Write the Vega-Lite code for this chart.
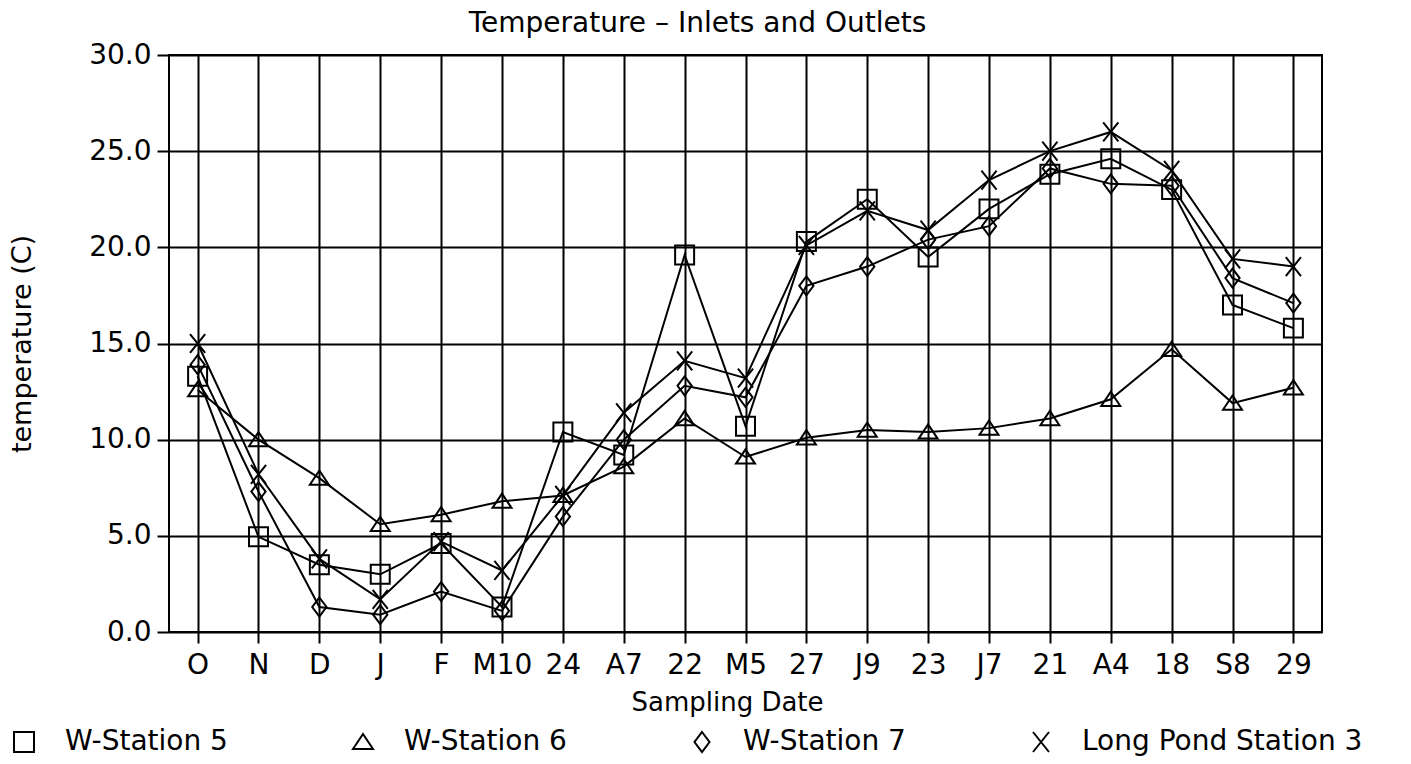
{
  "$schema": "https://vega.github.io/schema/vega-lite/v6.json",
  "width": 1153,
  "height": 577,
  "autosize": "none",
  "padding": {"left": 169, "top": 55, "right": 89, "bottom": 132},
  "background": "white",
  "config": {
    "font": "DejaVu Sans",
    "view": {"stroke": "black", "strokeWidth": 2}
  },
  "title": {
    "text": "Temperature – Inlets and Outlets",
    "fontSize": 28,
    "fontWeight": "normal",
    "color": "black",
    "anchor": "middle",
    "dx": -48,
    "offset": 3
  },
  "data": {
    "values": [
      {"date": "O", "station": "W-Station 5", "temp": 13.3},
      {"date": "N", "station": "W-Station 5", "temp": 4.95},
      {"date": "D", "station": "W-Station 5", "temp": 3.5},
      {"date": "J", "station": "W-Station 5", "temp": 3.0},
      {"date": "F", "station": "W-Station 5", "temp": 4.6},
      {"date": "M10", "station": "W-Station 5", "temp": 1.3},
      {"date": "24", "station": "W-Station 5", "temp": 10.4},
      {"date": "A7", "station": "W-Station 5", "temp": 9.2},
      {"date": "22", "station": "W-Station 5", "temp": 19.6},
      {"date": "M5", "station": "W-Station 5", "temp": 10.7},
      {"date": "27", "station": "W-Station 5", "temp": 20.3},
      {"date": "J9", "station": "W-Station 5", "temp": 22.5},
      {"date": "23", "station": "W-Station 5", "temp": 19.5},
      {"date": "J7", "station": "W-Station 5", "temp": 22.0},
      {"date": "21", "station": "W-Station 5", "temp": 23.8},
      {"date": "A4", "station": "W-Station 5", "temp": 24.6},
      {"date": "18", "station": "W-Station 5", "temp": 23.0},
      {"date": "S8", "station": "W-Station 5", "temp": 17.0},
      {"date": "29", "station": "W-Station 5", "temp": 15.8},
      {"date": "O", "station": "W-Station 6", "temp": 12.6},
      {"date": "N", "station": "W-Station 6", "temp": 10.0},
      {"date": "D", "station": "W-Station 6", "temp": 8.0},
      {"date": "J", "station": "W-Station 6", "temp": 5.6},
      {"date": "F", "station": "W-Station 6", "temp": 6.1},
      {"date": "M10", "station": "W-Station 6", "temp": 6.8},
      {"date": "24", "station": "W-Station 6", "temp": 7.1},
      {"date": "A7", "station": "W-Station 6", "temp": 8.6},
      {"date": "22", "station": "W-Station 6", "temp": 11.1},
      {"date": "M5", "station": "W-Station 6", "temp": 9.1},
      {"date": "27", "station": "W-Station 6", "temp": 10.1},
      {"date": "J9", "station": "W-Station 6", "temp": 10.5},
      {"date": "23", "station": "W-Station 6", "temp": 10.4},
      {"date": "J7", "station": "W-Station 6", "temp": 10.6},
      {"date": "21", "station": "W-Station 6", "temp": 11.1},
      {"date": "A4", "station": "W-Station 6", "temp": 12.1},
      {"date": "18", "station": "W-Station 6", "temp": 14.7},
      {"date": "S8", "station": "W-Station 6", "temp": 11.9},
      {"date": "29", "station": "W-Station 6", "temp": 12.7},
      {"date": "O", "station": "W-Station 7", "temp": 13.9},
      {"date": "N", "station": "W-Station 7", "temp": 7.3},
      {"date": "D", "station": "W-Station 7", "temp": 1.3},
      {"date": "J", "station": "W-Station 7", "temp": 0.9},
      {"date": "F", "station": "W-Station 7", "temp": 2.1},
      {"date": "M10", "station": "W-Station 7", "temp": 1.1},
      {"date": "24", "station": "W-Station 7", "temp": 6.0},
      {"date": "A7", "station": "W-Station 7", "temp": 10.0},
      {"date": "22", "station": "W-Station 7", "temp": 12.8},
      {"date": "M5", "station": "W-Station 7", "temp": 12.2},
      {"date": "27", "station": "W-Station 7", "temp": 18.0},
      {"date": "J9", "station": "W-Station 7", "temp": 19.0},
      {"date": "23", "station": "W-Station 7", "temp": 20.4},
      {"date": "J7", "station": "W-Station 7", "temp": 21.1},
      {"date": "21", "station": "W-Station 7", "temp": 24.1},
      {"date": "A4", "station": "W-Station 7", "temp": 23.3},
      {"date": "18", "station": "W-Station 7", "temp": 23.2},
      {"date": "S8", "station": "W-Station 7", "temp": 18.4},
      {"date": "29", "station": "W-Station 7", "temp": 17.1},
      {"date": "O", "station": "Long Pond Station 3", "temp": 15.0},
      {"date": "N", "station": "Long Pond Station 3", "temp": 8.2},
      {"date": "D", "station": "Long Pond Station 3", "temp": 3.8},
      {"date": "J", "station": "Long Pond Station 3", "temp": 1.7},
      {"date": "F", "station": "Long Pond Station 3", "temp": 4.7},
      {"date": "M10", "station": "Long Pond Station 3", "temp": 3.2},
      {"date": "24", "station": "Long Pond Station 3", "temp": 7.1},
      {"date": "A7", "station": "Long Pond Station 3", "temp": 11.4},
      {"date": "22", "station": "Long Pond Station 3", "temp": 14.1},
      {"date": "M5", "station": "Long Pond Station 3", "temp": 13.2},
      {"date": "27", "station": "Long Pond Station 3", "temp": 20.1},
      {"date": "J9", "station": "Long Pond Station 3", "temp": 21.9},
      {"date": "23", "station": "Long Pond Station 3", "temp": 20.9},
      {"date": "J7", "station": "Long Pond Station 3", "temp": 23.5},
      {"date": "21", "station": "Long Pond Station 3", "temp": 25.0},
      {"date": "A4", "station": "Long Pond Station 3", "temp": 26.0},
      {"date": "18", "station": "Long Pond Station 3", "temp": 24.0},
      {"date": "S8", "station": "Long Pond Station 3", "temp": 19.4},
      {"date": "29", "station": "Long Pond Station 3", "temp": 19.0}
    ]
  },
  "encoding": {
    "x": {
      "field": "date",
      "type": "ordinal",
      "sort": ["O", "N", "D", "J", "F", "M10", "24", "A7", "22", "M5", "27", "J9", "23", "J7", "21", "A4", "18", "S8", "29"],
      "scale": {"type": "point", "padding": 0.47},
      "axis": {
        "title": "Sampling Date",
        "titleFontSize": 26,
        "titleFontWeight": "normal",
        "titleColor": "black",
        "titleX": 558,
        "titlePadding": 10,
        "labelFontSize": 28,
        "labelColor": "black",
        "labelAngle": 0,
        "labelPadding": 8,
        "tickSize": 11,
        "tickColor": "black",
        "tickWidth": 2,
        "grid": true,
        "gridColor": "black",
        "gridWidth": 2,
        "gridOpacity": 1,
        "domain": false
      }
    },
    "y": {
      "field": "temp",
      "type": "quantitative",
      "scale": {"domain": [0, 30], "nice": false},
      "axis": {
        "title": "temperature (C)",
        "titleFontSize": 27,
        "titleFontWeight": "normal",
        "titleColor": "black",
        "titlePadding": 52,
        "values": [0, 5, 10, 15, 20, 25, 30],
        "format": ".1f",
        "labelFontSize": 28,
        "labelColor": "black",
        "labelPadding": 6,
        "tickSize": 12,
        "tickColor": "black",
        "tickWidth": 2,
        "grid": true,
        "gridColor": "black",
        "gridWidth": 2,
        "gridOpacity": 1,
        "domain": false
      }
    }
  },
  "layer": [
    {
      "mark": {"type": "line", "color": "black", "strokeWidth": 2},
      "encoding": {"detail": {"field": "station"}}
    },
    {
      "mark": {"type": "point", "filled": false, "color": "black", "strokeWidth": 2, "size": 360, "opacity": 1},
      "encoding": {
        "shape": {
          "field": "station",
          "type": "nominal",
          "scale": {
            "domain": ["W-Station 5", "W-Station 6", "W-Station 7", "Long Pond Station 3"],
            "range": ["square", "M0,-0.8L1,0.7L-1,0.7Z", "M0,-1L0.75,0L0,1L-0.75,0Z", "M-0.8,-1L0.8,1M-0.8,1L0.8,-1"]
          },
          "legend": {
            "orient": "none",
            "legendX": -159,
            "legendY": 673,
            "direction": "horizontal",
            "title": null,
            "labelFontSize": 28,
            "labelColor": "black",
            "labelLimit": 400,
            "symbolSize": 400,
            "symbolStrokeWidth": 2,
            "symbolStrokeColor": "black",
            "symbolFillColor": "transparent",
            "labelOffset": 27,
            "columnPadding": 121
          }
        }
      }
    }
  ]
}
